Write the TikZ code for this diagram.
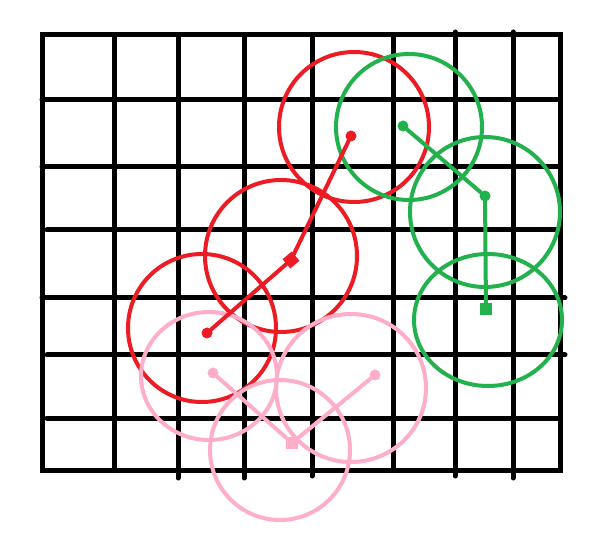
\documentclass[tikz,border=0pt]{standalone}
\usetikzlibrary{positioning, arrows.meta, calc}

\definecolor{paintred}{RGB}{237,28,36}
\definecolor{paintgreen}{RGB}{34,177,76}
\definecolor{paintpink}{RGB}{255,174,201}

\tikzset{
  gridline/.style={line width=5pt,black,line cap=round},
  ring/.style={line width=4pt},
  trail/.style={line width=4pt,line cap=round},
  blob/.style={circle,fill,inner sep=0pt,minimum size=11pt},
  sqblob/.style={rectangle,fill,inner sep=0pt,minimum size=12pt}
}

\begin{document}
\begin{tikzpicture}[x=1pt,y=-1pt]
  \useasboundingbox (0,0) rectangle (605,534);
  \fill[white] (0,0) rectangle (605,534);

  % grid
  \draw[gridline] (42,35) rectangle (560,470);
  \foreach \gy/\gl/\gr in {100/42/560,167/42/560,230/47/560,298/42/565,355/47/565,418/47/560}
    \draw[gridline] (\gl,\gy) -- (\gr,\gy);
  \foreach \gx/\gt/\gb in {114/35/470,178/35/478,244/35/478,312/35/476,393/35/470,455/32/476,513/32/478}
    \draw[gridline] (\gx,\gt) -- (\gx,\gb);

  % red rings
  \draw[ring,paintred] (354,127) circle (75);
  \draw[ring,paintred] (281,256) circle (76);
  \draw[ring,paintred] (202,328) circle (74);

  % green rings
  \draw[ring,paintgreen] (409,127) circle (73);
  \draw[ring,paintgreen] (485,212) circle (75);
  \draw[ring,paintgreen] (488,320) ellipse (74 and 66);

  % pink rings
  \draw[ring,paintpink] (209,376) ellipse (68 and 64);
  \draw[ring,paintpink] (351,388) ellipse (75 and 74);
  \draw[ring,paintpink] (280,450) circle (70);

  % red trail
  \node[blob,paintred] (rtop) at (351,136) {};
  \node[sqblob,paintred,rotate=40] (rmid) at (291,260) {};
  \node[blob,paintred] (rlow) at (207,333) {};
  \draw[trail,paintred] (rtop) -- (rmid) -- (rlow);

  % green trail
  \node[blob,paintgreen] (gtop) at (403,126) {};
  \node[blob,paintgreen] (gmid) at (485,196) {};
  \node[sqblob,paintgreen] (glow) at (486,309) {};
  \draw[trail,paintgreen] (gtop) -- (gmid) -- (glow);

  % pink trail
  \node[blob,paintpink] (pleft) at (213,373) {};
  \node[sqblob,paintpink] (pmid) at (292,443) {};
  \node[blob,paintpink] (pright) at (375,375) {};
  \draw[trail,paintpink] (pleft) -- (pmid) -- (pright);
\end{tikzpicture}
\end{document}
